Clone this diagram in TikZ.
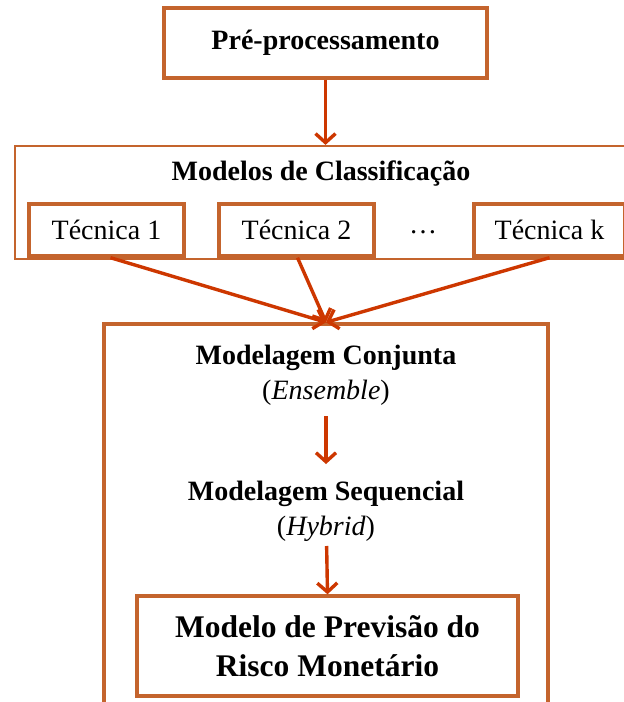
\documentclass[tikz,border=0pt]{standalone}
\usepackage{fontspec}
\setmainfont{Liberation Serif}
\usetikzlibrary{arrows.meta}
\definecolor{boxc}{RGB}{196,100,45}
\definecolor{arrc}{RGB}{205,55,0}
\begin{document}
\begin{tikzpicture}[x=1pt,y=-1pt,
  box/.style={draw=boxc,line width=3.4pt,inner sep=0pt},
  thinbox/.style={draw=boxc,line width=2.2pt,inner sep=0pt},
  tech/.style={box,minimum height=52pt,font=\fontsize{28}{30}\selectfont},
  arr/.style={draw=arrc,line width=3.4pt,-{Straight Barb[length=9pt,width=20pt]}},
  bigtxt/.style={align=center,font=\fontsize{28}{35}\selectfont},
]
\useasboundingbox (0,0) rectangle (624,702);
\clip (0,0) rectangle (624,702);
\fill[white] (0,0) rectangle (624,702);

\node[box,minimum width=323pt,minimum height=70pt,font=\bfseries\fontsize{28}{30}\selectfont] (pre) at (325.5,43) {Pré-processamento};

\node[thinbox,minimum width=611pt,minimum height=113pt] (mcl) at (320.5,202.5) {};
\node[font=\bfseries\fontsize{28}{30}\selectfont] (mct) at (321,174) {Modelos de Classificação};

\node[tech,minimum width=155pt] (t1) at (106.5,230) {Técnica 1};
\node[tech,minimum width=155pt] (t2) at (296.5,230) {Técnica 2};
\node[font=\fontsize{28}{30}\selectfont] (dots) at (423,232) {…};
\node[tech,minimum width=151pt] (tk) at (549.5,230) {Técnica k};

\node[box,minimum width=444pt,minimum height=388pt] (big) at (326,518) {};

\node[bigtxt] (mc) at (326,375) {\textbf{Modelagem Conjunta}\\(\textit{Ensemble})};
\node[bigtxt] (ms) at (326,511) {\textbf{Modelagem Sequencial}\\(\textit{Hybrid})};

\node[box,minimum width=381pt,minimum height=100pt,align=center,font=\bfseries\fontsize{31.5}{39}\selectfont] (fin) at (327.5,646) {Modelo de Previsão do\\Risco Monetário};

\draw[arr] (pre.south) -- (pre.south |- mcl.north);
\draw[arr] ([xshift=4pt]t1.south) -- (big.north);
\draw[arr] ([xshift=1pt]t2.south) -- (big.north);
\draw[arr] (tk.south) -- (big.north);
\draw[arr,shorten <=41pt,shorten >=47pt] (mc.center) -- (ms.center);
\draw[arr,shorten <=35pt] (ms.center) -- (fin.north);
\end{tikzpicture}
\end{document}
